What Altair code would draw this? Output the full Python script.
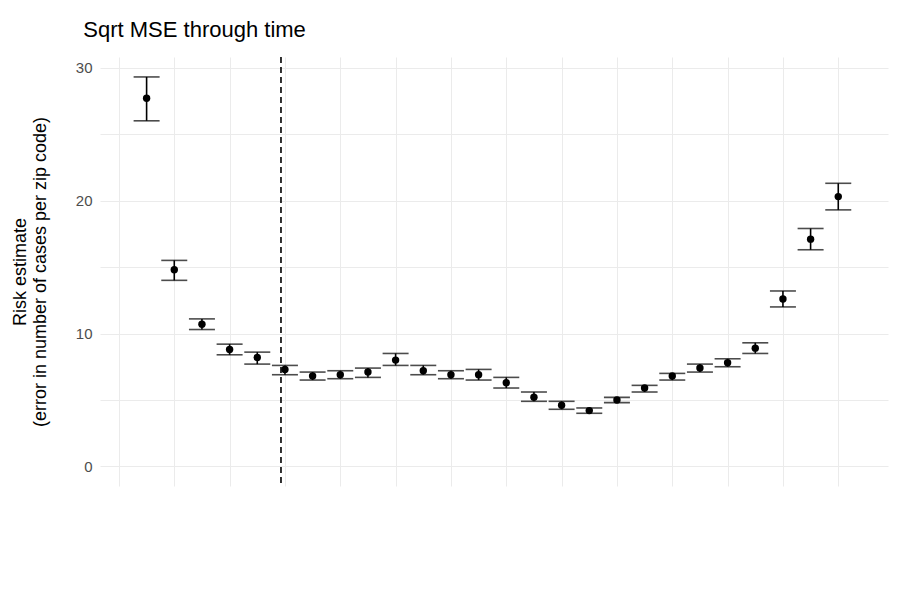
import altair as alt
import pandas as pd

dates = pd.date_range("2020-02-01", periods=26, freq="7D").strftime("%Y-%m-%d").tolist()
est = [27.7, 14.8, 10.7, 8.8, 8.2, 7.3, 6.8, 6.9, 7.1, 8.0, 7.2, 6.9, 6.9,
       6.3, 5.2, 4.6, 4.2, 5.0, 5.9, 6.8, 7.4, 7.8, 8.9, 12.6, 17.1, 20.3]
lo = [26.0, 14.0, 10.3, 8.4, 7.7, 6.9, 6.5, 6.6, 6.7, 7.6, 6.9, 6.6, 6.5,
      5.9, 4.9, 4.3, 4.0, 4.8, 5.6, 6.5, 7.1, 7.5, 8.5, 12.0, 16.3, 19.3]
hi = [29.3, 15.5, 11.1, 9.2, 8.6, 7.6, 7.1, 7.2, 7.4, 8.5, 7.6, 7.2, 7.3,
      6.7, 5.6, 4.9, 4.4, 5.2, 6.1, 7.0, 7.7, 8.1, 9.3, 13.2, 17.9, 21.3]
cutoff = "2020-03-06"

df = pd.DataFrame({"date": dates, "est": est, "lo": lo, "hi": hi})

weeks = pd.date_range("2020-01-25", "2020-08-08", freq="7D")
week_vals = [alt.DateTime(year=d.year, month=d.month, date=d.day, utc=True) for d in weeks]
major = pd.date_range("2020-02-01", "2020-08-08", freq="14D").strftime("%b-%d").tolist()
major_js = "[" + ",".join(f"'{m}'" for m in major) + "]"

x = alt.X("date:T", scale=alt.Scale(type="utc", domain=["2020-01-20T05:00:00Z", "2020-08-06T14:00:00Z"]),
          axis=alt.Axis(title=None, values=week_vals, labelAngle=-45,
                        labelAlign="right", labelBaseline="top", labelFontSize=15,
                        labelColor="#4d4d4d", ticks=False, domain=False, gridColor="#ebebeb",
                        labelPadding=6, labelOverlap=False,
                        labelExpr=f"indexof({major_js}, utcFormat(datum.value, '%b-%d')) >= 0 ? utcFormat(datum.value, '%b-%d') : ''"))
y = alt.Y("est:Q", scale=alt.Scale(domain=[-1.47, 30.8], nice=False, zero=False),
          axis=alt.Axis(title=["Risk estimate", "(error in number of cases per zip code)"],
                        values=[0, 5, 10, 15, 20, 25, 30], labelExpr="datum.value % 10 == 0 ? datum.label : ''",
                        titleFontSize=18, titleFontWeight="normal", titleColor="black",
                        labelFontSize=15, labelColor="#4d4d4d", ticks=False, domain=False,
                        gridColor="#ebebeb", titlePadding=26, labelPadding=8))

base = alt.Chart(df)
bars = base.mark_rule(color="black", strokeWidth=1.6).encode(x=x, y=alt.Y("lo:Q"), y2="hi:Q")
caps_lo = base.mark_tick(color="black", thickness=1.6, size=26, orient="horizontal").encode(x=x, y="lo:Q")
caps_hi = base.mark_tick(color="black", thickness=1.6, size=26, orient="horizontal").encode(x=x, y="hi:Q")
pts = base.mark_circle(color="black", opacity=1, size=55).encode(x=x, y=y)
vline = alt.Chart(pd.DataFrame({"d": [cutoff]})).mark_rule(color="black", strokeDash=[6, 4], strokeWidth=1.6).encode(x="d:T")

chart = (pts + bars + caps_lo + caps_hi + vline).properties(
    width=788, height=429,
    padding={"left": 92, "top": 49, "right": 4, "bottom": 10},
    autosize=alt.AutoSizeParams(type="none"),
    title=alt.TitleParams("Sqrt MSE through time", anchor="start", fontSize=22, fontWeight="normal",
                          color="black", offset=14, dx=72),
).configure(font="Liberation Sans").configure_view(stroke=None)

chart.save("out.html", embed_options={"renderer": "svg", "actions": False})
